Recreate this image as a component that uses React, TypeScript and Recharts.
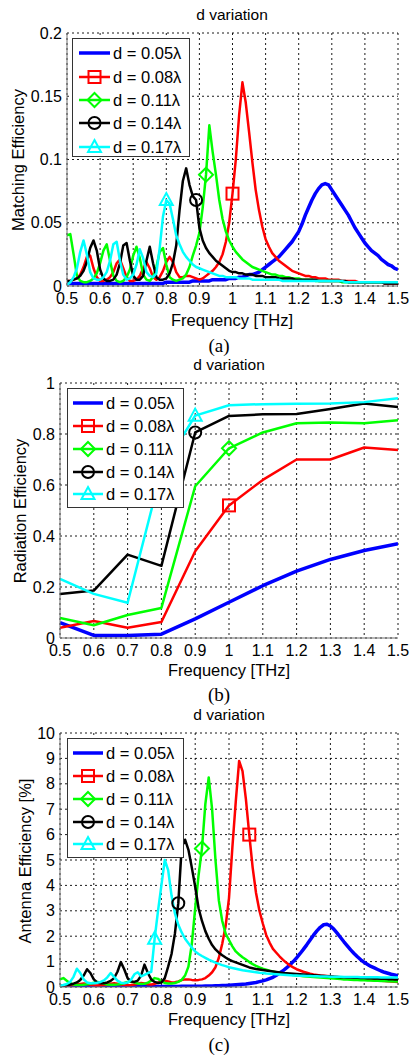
import React from 'react';
import { LineChart, Line, XAxis, YAxis, CartesianGrid, Legend } from 'recharts';

// ---------- data ----------
const FREQ = [
  0.5, 0.51, 0.52, 0.53, 0.54, 0.55, 0.56, 0.57, 0.58, 0.59,
  0.6, 0.61, 0.62, 0.63, 0.64, 0.65, 0.66, 0.67, 0.68, 0.69,
  0.7, 0.71, 0.72, 0.73, 0.74, 0.75, 0.76, 0.77, 0.78, 0.79,
  0.8, 0.81, 0.82, 0.83, 0.84, 0.85, 0.86, 0.87, 0.88, 0.89,
  0.9, 0.91, 0.92, 0.93, 0.94, 0.95, 0.96, 0.97, 0.98, 0.99,
  1, 1.01, 1.02, 1.03, 1.04, 1.05, 1.06, 1.07, 1.08, 1.09,
  1.1, 1.11, 1.12, 1.13, 1.14, 1.15, 1.16, 1.17, 1.18, 1.19,
  1.2, 1.21, 1.22, 1.23, 1.24, 1.25, 1.26, 1.27, 1.28, 1.29,
  1.3, 1.31, 1.32, 1.33, 1.34, 1.35, 1.36, 1.37, 1.38, 1.39,
  1.4, 1.41, 1.42, 1.43, 1.44, 1.45, 1.46, 1.47, 1.48, 1.49,
  1.5,
];
const FREQ_COARSE = [0.5, 0.6, 0.7, 0.8, 0.9, 1, 1.1, 1.2, 1.3, 1.4, 1.5];
const X_TICKS = [0.5, 0.6, 0.7, 0.8, 0.9, 1, 1.1, 1.2, 1.3, 1.4, 1.5];

const SERIES_NAMES = ['d = 0.05λ', 'd = 0.08λ', 'd = 0.11λ', 'd = 0.14λ', 'd = 0.17λ'];
const SERIES_COLORS = ['#0000ff', '#ff0000', '#00ff00', '#000000', '#00ffff'];
const SERIES_MARKERS = ['none', 'square', 'diamond', 'circle', 'triangle'];

// (a) Matching efficiency
const MATCH_Y_TICKS = [0, 0.05, 0.1, 0.15, 0.2];
const MATCH_MARKER_F = [null, 1.0, 0.92, 0.89, 0.8];
const MATCH_BLUE = [
  0.002, 0.002, 0.002, 0.002, 0.002, 0.002, 0.002, 0.002, 0.002, 0.002,
  0.002, 0.002, 0.002, 0.002, 0.002, 0.002, 0.002, 0.002, 0.002, 0.002,
  0.002, 0.002, 0.002, 0.002, 0.002, 0.002, 0.002, 0.002, 0.002, 0.002,
  0.003, 0.003, 0.003, 0.003, 0.003, 0.003, 0.003, 0.003, 0.004, 0.004,
  0.004, 0.004, 0.004, 0.004, 0.005, 0.005, 0.005, 0.005, 0.005, 0.006,
  0.006, 0.006, 0.007, 0.007, 0.008, 0.009, 0.009, 0.010, 0.011, 0.013,
  0.015, 0.017, 0.019, 0.021, 0.023, 0.026, 0.029, 0.032, 0.035, 0.039,
  0.043, 0.049, 0.056, 0.062, 0.068, 0.073, 0.077, 0.080, 0.081, 0.080,
  0.076, 0.072, 0.068, 0.064, 0.060, 0.056, 0.051, 0.046, 0.042, 0.038,
  0.034, 0.031, 0.028, 0.026, 0.024, 0.021, 0.019, 0.017, 0.016, 0.014,
  0.013,
];
const MATCH_RED = [
  0.004, 0.004, 0.005, 0.006, 0.009, 0.015, 0.023, 0.024, 0.014, 0.007,
  0.004, 0.004, 0.005, 0.007, 0.011, 0.018, 0.021, 0.014, 0.007, 0.004,
  0.004, 0.005, 0.008, 0.014, 0.019, 0.014, 0.007, 0.005, 0.007, 0.012,
  0.019, 0.023, 0.019, 0.011, 0.007, 0.007, 0.008, 0.008, 0.007, 0.006,
  0.005, 0.006, 0.008, 0.010, 0.012, 0.015, 0.019, 0.025, 0.035, 0.050,
  0.073, 0.100, 0.135, 0.161, 0.145, 0.122, 0.098, 0.076, 0.060, 0.047,
  0.037, 0.031, 0.026, 0.023, 0.020, 0.018, 0.016, 0.014, 0.012, 0.011,
  0.010, 0.009, 0.008, 0.008, 0.007, 0.007, 0.006, 0.006, 0.006, 0.005,
  0.005, 0.005, 0.005, 0.004, 0.004, 0.004, 0.004, 0.004, 0.003, 0.003,
  0.003, 0.003, 0.003, 0.003, 0.003, 0.003, 0.002, 0.002, 0.002, 0.002,
  0.002,
];
const MATCH_GREEN = [
  0.040, 0.041, 0.025, 0.008, 0.004, 0.003, 0.003, 0.004, 0.006, 0.010,
  0.018, 0.028, 0.033, 0.020, 0.008, 0.004, 0.003, 0.004, 0.007, 0.013,
  0.024, 0.031, 0.022, 0.009, 0.005, 0.004, 0.007, 0.015, 0.027, 0.030,
  0.017, 0.007, 0.005, 0.004, 0.005, 0.006, 0.009, 0.015, 0.024, 0.032,
  0.042, 0.062, 0.088, 0.127, 0.106, 0.088, 0.068, 0.053, 0.043, 0.036,
  0.031, 0.027, 0.024, 0.021, 0.019, 0.017, 0.015, 0.014, 0.013, 0.012,
  0.011, 0.010, 0.009, 0.009, 0.008, 0.008, 0.007, 0.007, 0.006, 0.006,
  0.006, 0.005, 0.005, 0.005, 0.005, 0.004, 0.004, 0.004, 0.004, 0.004,
  0.004, 0.004, 0.004, 0.003, 0.003, 0.003, 0.003, 0.003, 0.003, 0.003,
  0.003, 0.003, 0.003, 0.003, 0.003, 0.003, 0.003, 0.003, 0.003, 0.003,
  0.003,
];
const MATCH_BLACK = [
  0.004, 0.004, 0.005, 0.006, 0.008, 0.012, 0.019, 0.030, 0.036, 0.028,
  0.013, 0.006, 0.004, 0.004, 0.005, 0.009, 0.018, 0.032, 0.034, 0.020,
  0.008, 0.005, 0.005, 0.008, 0.020, 0.031, 0.018, 0.007, 0.005, 0.005,
  0.006, 0.010, 0.018, 0.032, 0.060, 0.083, 0.093, 0.080, 0.071, 0.068,
  0.046, 0.036, 0.030, 0.026, 0.023, 0.020, 0.018, 0.016, 0.014, 0.012,
  0.011, 0.011, 0.010, 0.010, 0.009, 0.009, 0.009, 0.008, 0.008, 0.008,
  0.007, 0.007, 0.007, 0.007, 0.006, 0.006, 0.006, 0.006, 0.006, 0.005,
  0.005, 0.005, 0.005, 0.005, 0.005, 0.005, 0.004, 0.004, 0.004, 0.004,
  0.004, 0.004, 0.004, 0.004, 0.004, 0.003, 0.003, 0.003, 0.003, 0.003,
  0.003, 0.003, 0.003, 0.003, 0.003, 0.003, 0.002, 0.002, 0.002, 0.002,
  0.002,
];
const MATCH_CYAN = [
  0.001, 0.003, 0.007, 0.014, 0.027, 0.036, 0.025, 0.011, 0.006, 0.005,
  0.005, 0.007, 0.011, 0.020, 0.033, 0.035, 0.020, 0.009, 0.005, 0.006,
  0.009, 0.017, 0.029, 0.022, 0.011, 0.008, 0.007, 0.010, 0.030, 0.055,
  0.068, 0.065, 0.053, 0.040, 0.033, 0.027, 0.023, 0.020, 0.017, 0.015,
  0.014, 0.013, 0.012, 0.011, 0.010, 0.009, 0.008, 0.008, 0.007, 0.007,
  0.007, 0.007, 0.006, 0.006, 0.006, 0.006, 0.005, 0.005, 0.005, 0.005,
  0.005, 0.005, 0.005, 0.005, 0.005, 0.004, 0.004, 0.004, 0.004, 0.004,
  0.004, 0.004, 0.004, 0.004, 0.004, 0.004, 0.004, 0.004, 0.004, 0.004,
  0.004, 0.004, 0.004, 0.004, 0.003, 0.003, 0.003, 0.003, 0.003, 0.003,
  0.003, 0.003, 0.003, 0.003, 0.003, 0.003, 0.003, 0.003, 0.003, 0.003,
  0.003,
];

// (b) Radiation efficiency
const RAD_Y_TICKS = [0, 0.2, 0.4, 0.6, 0.8, 1];
const RAD_MARKER_F = [null, 1.0, 1.0, 0.9, 0.9];
const RAD_BLUE = [0.06, 0.01, 0.01, 0.015, 0.075, 0.14, 0.205, 0.262, 0.308, 0.343, 0.37];
const RAD_RED = [0.04, 0.067, 0.04, 0.063, 0.34, 0.52, 0.62, 0.70, 0.70, 0.747, 0.737];
const RAD_GREEN = [0.079, 0.05, 0.09, 0.118, 0.595, 0.744, 0.806, 0.842, 0.845, 0.842, 0.854];
const RAD_BLACK = [0.173, 0.186, 0.327, 0.283, 0.806, 0.871, 0.877, 0.878, 0.898, 0.92, 0.906];
const RAD_CYAN = [0.232, 0.173, 0.138, 0.655, 0.872, 0.913, 0.917, 0.919, 0.92, 0.925, 0.94];

// (c) Antenna efficiency [%]
const EFF_Y_TICKS = [0, 1, 2, 3, 4, 5, 6, 7, 8, 9, 10];
const EFF_MARKER_F = [null, 1.06, 0.92, 0.85, 0.78];
const EFF_BLUE = [
  0.02, 0.02, 0.02, 0.02, 0.02, 0.02, 0.02, 0.02, 0.02, 0.02,
  0.02, 0.02, 0.02, 0.02, 0.02, 0.02, 0.02, 0.02, 0.02, 0.02,
  0.02, 0.02, 0.02, 0.02, 0.02, 0.02, 0.02, 0.02, 0.02, 0.02,
  0.02, 0.02, 0.02, 0.02, 0.02, 0.02, 0.03, 0.03, 0.03, 0.03,
  0.03, 0.03, 0.03, 0.04, 0.04, 0.04, 0.05, 0.05, 0.06, 0.06,
  0.07, 0.08, 0.09, 0.10, 0.11, 0.12, 0.14, 0.16, 0.18, 0.21,
  0.24, 0.28, 0.33, 0.38, 0.46, 0.55, 0.64, 0.75, 0.87, 1.00,
  1.15, 1.31, 1.48, 1.66, 1.85, 2.04, 2.21, 2.35, 2.45, 2.47,
  2.40, 2.28, 2.12, 1.95, 1.78, 1.62, 1.46, 1.32, 1.19, 1.07,
  0.97, 0.89, 0.81, 0.75, 0.69, 0.63, 0.58, 0.54, 0.50, 0.47,
  0.44,
];
const EFF_RED = [
  0.05, 0.05, 0.06, 0.07, 0.08, 0.10, 0.12, 0.14, 0.12, 0.09,
  0.07, 0.06, 0.07, 0.08, 0.10, 0.13, 0.15, 0.13, 0.10, 0.08,
  0.07, 0.08, 0.10, 0.13, 0.16, 0.14, 0.11, 0.10, 0.12, 0.17,
  0.22, 0.25, 0.22, 0.18, 0.19, 0.22, 0.27, 0.30, 0.30, 0.28,
  0.27, 0.28, 0.30, 0.35, 0.45, 0.58, 0.78, 1.15, 1.70, 2.40,
  3.50, 5.50, 7.30, 8.90, 8.50, 7.40, 6.00, 4.70, 3.70, 3.00,
  2.50, 2.05, 1.75, 1.50, 1.35, 1.20, 1.07, 0.95, 0.85, 0.77,
  0.70, 0.65, 0.60, 0.56, 0.52, 0.49, 0.47, 0.45, 0.44, 0.43,
  0.42, 0.40, 0.39, 0.37, 0.36, 0.35, 0.34, 0.33, 0.32, 0.31,
  0.30, 0.29, 0.28, 0.27, 0.26, 0.25, 0.24, 0.23, 0.22, 0.21,
  0.20,
];
const EFF_GREEN = [
  0.30, 0.35, 0.25, 0.15, 0.10, 0.08, 0.08, 0.09, 0.11, 0.14,
  0.17, 0.20, 0.18, 0.13, 0.10, 0.09, 0.09, 0.10, 0.12, 0.16,
  0.20, 0.22, 0.18, 0.14, 0.12, 0.13, 0.17, 0.25, 0.35, 0.32,
  0.22, 0.16, 0.14, 0.14, 0.16, 0.20, 0.28, 0.45, 0.80, 1.70,
  3.10, 4.40, 5.45, 7.20, 8.25, 7.00, 5.00, 3.40, 2.60, 2.10,
  1.85, 1.60, 1.40, 1.28, 1.17, 1.08, 0.98, 0.90, 0.83, 0.77,
  0.72, 0.68, 0.64, 0.61, 0.58, 0.55, 0.53, 0.51, 0.49, 0.47,
  0.45, 0.44, 0.42, 0.41, 0.40, 0.39, 0.38, 0.37, 0.36, 0.35,
  0.34, 0.33, 0.32, 0.31, 0.30, 0.30, 0.29, 0.28, 0.28, 0.27,
  0.27, 0.26, 0.26, 0.25, 0.25, 0.24, 0.24, 0.23, 0.23, 0.22,
  0.22,
];
const EFF_BLACK = [
  0.05, 0.06, 0.08, 0.10, 0.13, 0.18, 0.28, 0.45, 0.70, 0.55,
  0.30, 0.18, 0.15, 0.15, 0.18, 0.24, 0.35, 0.60, 0.98, 0.70,
  0.35, 0.22, 0.20, 0.25, 0.45, 0.88, 0.55, 0.30, 0.20, 0.16,
  0.18, 0.35, 0.80, 1.30, 2.10, 3.30, 5.50, 5.80, 5.40, 4.70,
  3.95, 3.10, 2.60, 2.20, 1.90, 1.65, 1.48, 1.35, 1.25, 1.16,
  1.08, 1.02, 0.97, 0.92, 0.87, 0.82, 0.77, 0.74, 0.71, 0.69,
  0.67, 0.65, 0.63, 0.61, 0.59, 0.57, 0.55, 0.54, 0.53, 0.52,
  0.51, 0.50, 0.49, 0.48, 0.47, 0.46, 0.45, 0.44, 0.43, 0.42,
  0.41, 0.40, 0.39, 0.38, 0.38, 0.37, 0.37, 0.36, 0.36, 0.35,
  0.35, 0.34, 0.34, 0.33, 0.33, 0.32, 0.32, 0.31, 0.31, 0.30,
  0.30,
];
const EFF_CYAN = [
  0.05, 0.08, 0.12, 0.20, 0.40, 0.72, 0.55, 0.30, 0.18, 0.15,
  0.15, 0.17, 0.20, 0.26, 0.38, 0.55, 0.40, 0.25, 0.17, 0.15,
  0.18, 0.28, 0.50, 0.58, 0.42, 0.48, 0.55, 0.60, 1.90, 3.00,
  4.00, 5.00, 4.60, 3.60, 2.90, 2.45, 2.15, 1.90, 1.72, 1.55,
  1.40, 1.30, 1.22, 1.15, 1.08, 1.02, 0.96, 0.91, 0.86, 0.82,
  0.78, 0.75, 0.72, 0.69, 0.66, 0.64, 0.62, 0.60, 0.58, 0.56,
  0.55, 0.53, 0.52, 0.51, 0.50, 0.49, 0.48, 0.47, 0.46, 0.45,
  0.45, 0.44, 0.44, 0.43, 0.43, 0.42, 0.42, 0.41, 0.41, 0.41,
  0.40, 0.40, 0.40, 0.40, 0.39, 0.39, 0.39, 0.39, 0.39, 0.38,
  0.38, 0.38, 0.38, 0.38, 0.38, 0.37, 0.37, 0.37, 0.37, 0.37,
  0.37,
];

// ---------- helpers ----------
const FONT = "'Liberation Sans', Arial, Helvetica, sans-serif";
const SERIF = "'Liberation Serif', 'Times New Roman', serif";
const FRAME = '#6e6e6e';

const toPoints = (xs: number[], ys: number[]) => xs.map((f, i) => ({ f, v: ys[i] }));

function MarkerShape({ kind, cx, cy, color }: { kind: string; cx: number; cy: number; color: string }) {
  const common = { fill: 'none', stroke: color, strokeWidth: 2 };
  if (kind === 'square') return <rect x={cx - 6} y={cy - 6} width={12} height={12} {...common} />;
  if (kind === 'diamond')
    return <polygon points={`${cx},${cy - 7} ${cx + 7},${cy} ${cx},${cy + 7} ${cx - 7},${cy}`} {...common} />;
  if (kind === 'circle') return <circle cx={cx} cy={cy} r={6} {...common} />;
  if (kind === 'triangle')
    return <polygon points={`${cx},${cy - 7} ${cx + 6.5},${cy + 5} ${cx - 6.5},${cy + 5}`} {...common} />;
  return null;
}

function makeDot(kind: string, markerF: number | null, color: string) {
  return (props: any) => {
    const { cx, cy, payload, index } = props;
    if (markerF == null || payload == null || Math.abs(payload.f - markerF) > 0.001 || cx == null || cy == null) {
      return <g key={`d-${index}`} />;
    }
    return (
      <g key={`d-${index}`}>
        <MarkerShape kind={kind} cx={cx} cy={cy} color={color} />
      </g>
    );
  };
}

type LegendGeom = { w: number; h: number; rows: number[]; x0: number; x1: number; tx: number };

function LegendBox({ g }: { g: LegendGeom }) {
  return (
    <svg width={g.w} height={g.h} style={{ display: 'block' }}>
      <rect x={0.5} y={0.5} width={g.w - 1} height={g.h - 1} fill="#fff" stroke="#333" strokeWidth={1} />
      {SERIES_NAMES.map((name, i) => {
        const y = g.rows[i];
        const mid = (g.x0 + g.x1) / 2;
        return (
          <g key={name}>
            <line x1={g.x0} x2={g.x1} y1={y} y2={y} stroke={SERIES_COLORS[i]} strokeWidth={i === 0 ? 3.5 : 2.5} />
            <MarkerShape kind={SERIES_MARKERS[i]} cx={mid} cy={y} color={SERIES_COLORS[i]} />
            <text x={g.tx} y={y} dy="0.36em" fontSize={16.5} fontFamily={FONT} fill="#000">
              {name}
            </text>
          </g>
        );
      })}
    </svg>
  );
}

function Txt({ x, y, children, size = 16, family = FONT, rotate = false }: any) {
  return (
    <div
      style={{
        position: 'absolute',
        left: x,
        top: y,
        transform: `translate(-50%, -50%)${rotate ? ' rotate(-90deg)' : ''}`,
        fontSize: size,
        fontFamily: family,
        whiteSpace: 'nowrap',
        lineHeight: 1,
        color: '#000',
      }}
    >
      {children}
    </div>
  );
}

type PanelProps = {
  top: number;
  yDomain: [number, number];
  yTicks: number[];
  yWidth: number;
  bottomMargin: number;
  xs: number[];
  values: number[][];
  markerF: (number | null)[];
  legendLeft: number;
  legendTop: number;
  legend: LegendGeom;
};

function Panel(p: PanelProps) {
  const tickStyle = { fill: '#000', fontSize: 16, fontFamily: FONT };
  return (
    <div style={{ position: 'absolute', left: 0, top: p.top, width: 411, height: 350 }}>
      <LineChart width={411} height={350} margin={{ top: 33, right: 13, bottom: p.bottomMargin, left: 0 }}>
        <CartesianGrid stroke="#000" strokeDasharray="2 3" strokeWidth={0.9} />
        <XAxis
          xAxisId={0}
          dataKey="f"
          type="number"
          domain={[0.5, 1.5]}
          ticks={X_TICKS}
          interval={0}
          allowDataOverflow
          height={30}
          tickSize={0}
          tickMargin={7}
          tickLine={false}
          axisLine={{ stroke: FRAME }}
          tick={tickStyle}
        />
        <XAxis
          xAxisId="top"
          orientation="top"
          dataKey="f"
          type="number"
          domain={[0.5, 1.5]}
          height={0}
          tick={false}
          tickLine={false}
          axisLine={{ stroke: FRAME }}
        />
        <YAxis
          yAxisId={0}
          type="number"
          domain={p.yDomain}
          ticks={p.yTicks}
          interval={0}
          allowDataOverflow
          width={p.yWidth}
          tickSize={0}
          tickMargin={5}
          tickLine={false}
          axisLine={{ stroke: FRAME }}
          tick={tickStyle}
        />
        <YAxis
          yAxisId="right"
          orientation="right"
          type="number"
          domain={p.yDomain}
          width={0}
          tick={false}
          tickLine={false}
          axisLine={{ stroke: FRAME }}
        />
        {p.values.map((vals, i) => (
          <Line
            key={SERIES_NAMES[i]}
            name={SERIES_NAMES[i]}
            data={toPoints(p.xs, vals)}
            dataKey="v"
            xAxisId={0}
            yAxisId={0}
            type="linear"
            stroke={SERIES_COLORS[i]}
            strokeWidth={i === 0 ? 3.5 : 2.5}
            dot={makeDot(SERIES_MARKERS[i], p.markerF[i], SERIES_COLORS[i])}
            activeDot={false}
            isAnimationActive={false}
            strokeLinejoin="round"
          />
        ))}
        <Legend
          layout="horizontal"
          verticalAlign="middle"
          align="center"
          wrapperStyle={{ position: 'absolute', left: p.legendLeft, top: p.legendTop, width: p.legend.w, height: p.legend.h }}
          content={() => <LegendBox g={p.legend} />}
        />
      </LineChart>
    </div>
  );
}

export default function App() {
  const legendA: LegendGeom = { w: 118, h: 119, rows: [15, 39, 62, 85, 109], x0: 7, x1: 38, tx: 41 };
  const legendBC: LegendGeom = { w: 117, h: 120, rows: [15, 38, 61, 84, 106], x0: 6, x1: 36, tx: 39 };
  return (
    <div style={{ position: 'absolute', left: 0, top: 0, width: 411, height: 1055, background: '#fff', overflow: 'hidden' }}>
      {/* (a) */}
      <Panel
        top={0}
        yDomain={[0, 0.2]}
        yTicks={MATCH_Y_TICKS}
        yWidth={67}
        bottomMargin={34}
        xs={FREQ}
        values={[MATCH_BLUE, MATCH_RED, MATCH_GREEN, MATCH_BLACK, MATCH_CYAN]}
        markerF={MATCH_MARKER_F}
        legendLeft={72}
        legendTop={38}
        legend={legendA}
      />
      <Txt x={232} y={15} size={15.5}>d variation</Txt>
      <Txt x={18} y={160} size={16.5} rotate>Matching Efficiency</Txt>
      <Txt x={232} y={320} size={16.5}>Frequency [THz]</Txt>
      <Txt x={219} y={345} size={19} family={SERIF}>(a)</Txt>

      {/* (b) */}
      <Panel
        top={350}
        yDomain={[0, 1]}
        yTicks={RAD_Y_TICKS}
        yWidth={60}
        bottomMargin={32}
        xs={FREQ_COARSE}
        values={[RAD_BLUE, RAD_RED, RAD_GREEN, RAD_BLACK, RAD_CYAN]}
        markerF={RAD_MARKER_F}
        legendLeft={67}
        legendTop={38}
        legend={legendBC}
      />
      <Txt x={229} y={365} size={15.5}>d variation</Txt>
      <Txt x={20} y={511} size={16.5} rotate>Radiation Efficiency</Txt>
      <Txt x={229} y={670} size={16.5}>Frequency [THz]</Txt>
      <Txt x={219} y={694} size={19} family={SERIF}>(b)</Txt>

      {/* (c) */}
      <Panel
        top={700}
        yDomain={[0, 10]}
        yTicks={EFF_Y_TICKS}
        yWidth={60}
        bottomMargin={33}
        xs={FREQ}
        values={[EFF_BLUE, EFF_RED, EFF_GREEN, EFF_BLACK, EFF_CYAN]}
        markerF={EFF_MARKER_F}
        legendLeft={67}
        legendTop={38}
        legend={legendBC}
      />
      <Txt x={229} y={715} size={15.5}>d variation</Txt>
      <Txt x={25} y={861} size={16.5} rotate>Antenna Efficiency [%]</Txt>
      <Txt x={229} y={1019} size={16.5}>Frequency [THz]</Txt>
      <Txt x={219} y={1044} size={19} family={SERIF}>(c)</Txt>
    </div>
  );
}
